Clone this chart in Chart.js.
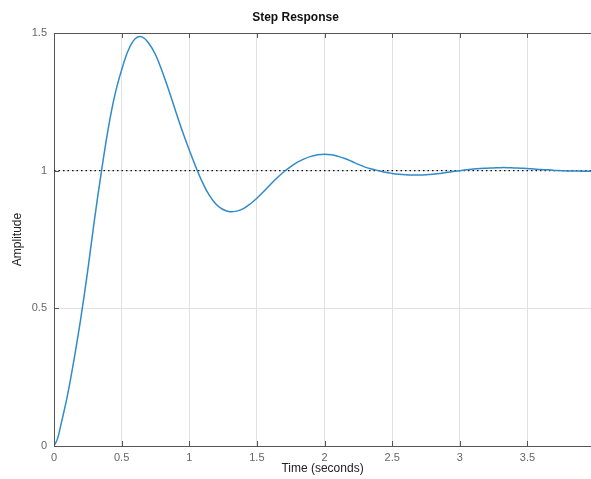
<!DOCTYPE html>
<html>
<head>
<meta charset="utf-8">
<script src="https://cdn.jsdelivr.net/npm/chart.js@4"></script>
<style>
  html, body { margin: 0; padding: 0; background: #fff; }
  #wrap { width: 591px; height: 479px; }
</style>
</head>
<body>
<div id="wrap"><canvas id="stepChart" width="591" height="479"></canvas></div>
<script>
// values
const time = [0, 0.025, 0.05, 0.1, 0.15, 0.2, 0.25, 0.3, 0.35, 0.4, 0.45, 0.5, 0.55, 0.6, 0.65, 0.7, 0.75, 0.8, 0.85, 0.9, 0.95,
  1.0, 1.05, 1.1, 1.15, 1.2, 1.25, 1.3, 1.35, 1.4, 1.45, 1.5, 1.55, 1.6, 1.65, 1.7, 1.75, 1.8, 1.85, 1.9, 1.95,
  2.0, 2.05, 2.1, 2.15, 2.2, 2.25, 2.3, 2.35, 2.4, 2.45, 2.5, 2.55, 2.6, 2.65, 2.7, 2.75, 2.8, 2.85, 2.9, 2.95,
  3.0, 3.05, 3.1, 3.15, 3.2, 3.25, 3.3, 3.35, 3.4, 3.45, 3.5, 3.55, 3.6, 3.65, 3.7, 3.75, 3.8, 3.85, 3.9, 3.95, 3.97];
const amplitude = [0, 0.025, 0.075, 0.185, 0.32, 0.47, 0.64, 0.825, 0.995, 1.15, 1.275, 1.366, 1.438, 1.479, 1.486, 1.463, 1.422, 1.36, 1.29, 1.215, 1.142,
  1.075, 1.012, 0.955, 0.909, 0.877, 0.859, 0.851, 0.853, 0.862, 0.879, 0.9, 0.924, 0.95, 0.974, 0.996, 1.015, 1.031, 1.043, 1.052, 1.058,
  1.06, 1.058, 1.052, 1.044, 1.034, 1.023, 1.013, 1.006, 1.0, 0.994, 0.99, 0.987, 0.985, 0.984, 0.984, 0.985, 0.987, 0.99, 0.993, 0.997,
  1.0, 1.003, 1.006, 1.008, 1.009, 1.01, 1.011, 1.011, 1.01, 1.009, 1.008, 1.006, 1.004, 1.003, 1.001, 1.0, 0.999, 0.999, 0.998, 0.998, 0.998];
const finalValue = 1;
const xRange = [0, 3.97];
const yRange = [0, 1.5];
const tickStep = 0.5;

const response = time.map((t, i) => ({ x: t, y: amplitude[i] }));
const steadyLine = xRange.map(t => ({ x: t, y: finalValue }));

// box top edge + small inward ticks, like the original axes frame
const frame = {
  id: 'frame',
  afterDraw(chart) {
    const { ctx, chartArea, scales } = chart;
    ctx.save();
    ctx.strokeStyle = '#555';
    ctx.lineWidth = 1;
    ctx.beginPath();
    ctx.moveTo(chartArea.left, chartArea.top + 0.5);
    ctx.lineTo(chartArea.right, chartArea.top + 0.5);
    scales.x.ticks.forEach(tk => {
      const px = Math.round(scales.x.getPixelForValue(tk.value)) + 0.5;
      ctx.moveTo(px, chartArea.bottom);
      ctx.lineTo(px, chartArea.bottom - 5);
      ctx.moveTo(px, chartArea.top);
      ctx.lineTo(px, chartArea.top + 5);
    });
    scales.y.ticks.forEach(tk => {
      const py = Math.round(scales.y.getPixelForValue(tk.value)) + 0.5;
      ctx.moveTo(chartArea.left, py);
      ctx.lineTo(chartArea.left + 5, py);
    });
    ctx.stroke();
    ctx.restore();
  }
};

const plainNumber = v => String(+v.toFixed(2));

new Chart(document.getElementById('stepChart').getContext('2d'), {
  type: 'line',
  data: {
    datasets: [{
      data: response,
      borderColor: '#2f8bc9',
      borderWidth: 1.5,
      pointRadius: 0,
      tension: 0.35,
      fill: false
    }, {
      data: steadyLine,
      borderColor: '#111',
      borderWidth: 1.2,
      borderDash: [1.5, 3],
      pointRadius: 0,
      fill: false
    }]
  },
  options: {
    responsive: false,
    animation: false,
    layout: { padding: 0 },
    plugins: {
      legend: { display: false },
      tooltip: { enabled: false },
      title: {
        display: true,
        text: 'Step Response',
        color: '#111',
        font: { family: 'Liberation Sans', size: 12, weight: 'bold' },
        padding: { top: 10, bottom: 8.6 }
      }
    },
    scales: {
      x: {
        type: 'linear',
        min: xRange[0],
        max: xRange[1],
        afterFit(s) { s.height = 33; },
        ticks: {
          stepSize: tickStep,
          includeBounds: false,
          padding: 5,
          color: '#666',
          maxRotation: 0,
          callback: plainNumber,
          font: { family: 'Liberation Sans', size: 11 }
        },
        grid: { color: '#e2e2e2', drawTicks: false },
        border: { color: '#555', width: 1 },
        title: {
          display: true,
          text: 'Time (seconds)',
          color: '#222',
          font: { family: 'Liberation Sans', size: 12 },
          padding: { top: 0, bottom: 3 }
        }
      },
      y: {
        type: 'linear',
        min: yRange[0],
        max: yRange[1],
        afterFit(s) { s.width = 54; },
        ticks: {
          stepSize: tickStep,
          padding: 7,
          color: '#666',
          callback: plainNumber,
          font: { family: 'Liberation Sans', size: 11 }
        },
        grid: { color: '#e2e2e2', drawTicks: false },
        border: { color: '#555', width: 1 },
        title: {
          display: true,
          text: 'Amplitude',
          color: '#222',
          font: { family: 'Liberation Sans', size: 12 },
          padding: { top: 10, bottom: 0 }
        }
      }
    }
  },
  plugins: [frame]
});
</script>
</body>
</html>
